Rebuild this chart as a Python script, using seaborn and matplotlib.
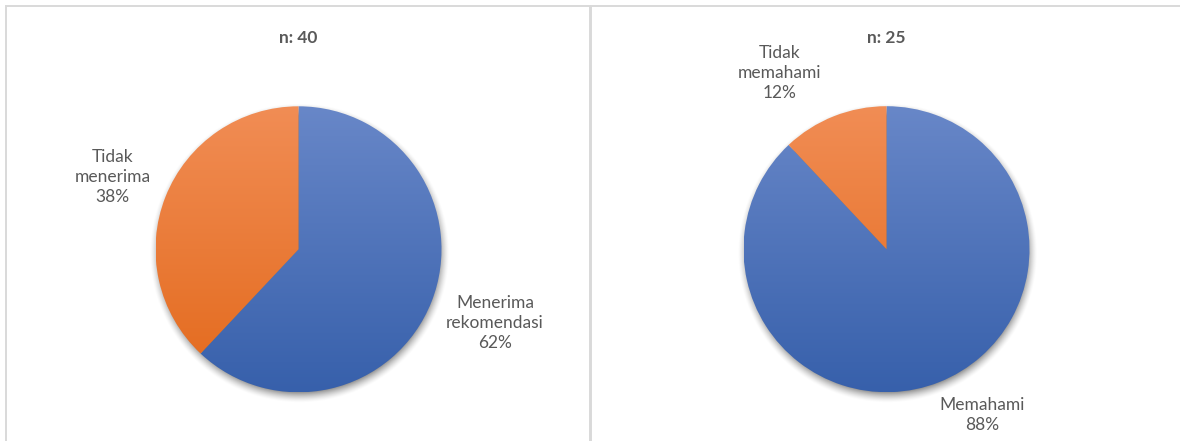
import numpy as np
import matplotlib
matplotlib.use("Agg")
import matplotlib.pyplot as plt
from matplotlib.patches import Rectangle
from matplotlib.colors import to_rgb
import seaborn as sns

sns.set_theme(style="white")
plt.rcParams["font.family"] = ["Lato", "DejaVu Sans"]

# Survey results (percent of respondents)
left_title = "n: 40"
left_labels = ["Menerima\nrekomendasi", "Tidak\nmenerima"]
left_pct = [62, 38]

right_title = "n: 25"
right_labels = ["Memahami", "Tidak\nmemahami"]
right_pct = [88, 12]

W, H, DPI = 1180, 441, 100
fig = plt.figure(figsize=(W / DPI, H / DPI), dpi=DPI, facecolor="white")

base = sns.color_palette(["#4472C4", "#ED7D31"])
# vertical gradient (top, bottom) for each slice colour
gradients = [("#6887c8", "#3760ab"), ("#f18d55", "#e3691b")]
text_color = "#595959"
border_color = "#d9d9d9"

# Panel frames
for x0, x1 in [(6, 590), (591, 1200)]:
    fig.patches.append(Rectangle((x0 / W, -0.1), (x1 - x0) / W, (H - 5.5) / H + 0.1,
                                 transform=fig.transFigure, fill=False,
                                 edgecolor=border_color, linewidth=1.4))

PAD = 1.15  # axes half-width in pie radii, leaves room for the shadow


def soft_shadow(ax):
    n = 500
    xs = np.linspace(-PAD, PAD, n)
    X, Y = np.meshgrid(xs, xs[::-1])
    r = np.hypot(X - 0.008, Y + 0.025)
    a = np.clip((1.05 - r) / 0.09, 0, 1) ** 1.5 * 0.55
    img = np.zeros((n, n, 4))
    img[..., 3] = a
    ax.imshow(img, extent=(-PAD, PAD, -PAD, PAD), zorder=0, interpolation="bilinear")


def draw_pie(center, radius, pct, labels, title, label_pos):
    cx, cy = center
    half = radius * PAD
    ax = fig.add_axes([(cx - half) / W, (H - cy - half) / H, 2 * half / W, 2 * half / H])
    soft_shadow(ax)
    wedges, _ = ax.pie(pct, colors=base, startangle=90, counterclock=False, radius=1,
                       wedgeprops=dict(linewidth=0))
    for i, w in enumerate(wedges):
        top, bot = np.array(to_rgb(gradients[i][0])), np.array(to_rgb(gradients[i][1]))
        t = np.linspace(0, 1, 256)[:, None, None]
        img = top * (1 - t) + bot * t
        w.set_facecolor("none")
        im = ax.imshow(img, extent=(-1, 1, -1, 1), aspect="auto", zorder=2,
                       interpolation="bilinear")
        im.set_clip_path(w)
    for lab, p, (lx, ly) in zip(labels, pct, label_pos):
        ax.text(lx, ly, f"{lab}\n{p}%", ha="center", va="center", fontsize=12.5,
                color=text_color, linespacing=1.32, clip_on=False, zorder=5)
    ax.set_xlim(-PAD, PAD)
    ax.set_ylim(-PAD, PAD)
    ax.set_aspect("equal")
    ax.axis("off")
    fig.text(cx / W, 1 - 38 / H, title, ha="center", va="center", fontsize=12.5,
             fontweight="bold", color=text_color)


draw_pie((298.5, 249.3), 143, left_pct, left_labels, left_title,
         [(1.374, -0.515), (-1.30, 0.506)])
draw_pie((886.5, 249.2), 143, right_pct, right_labels, right_title,
         [(0.668, -1.16), (-0.745, 1.23)])

fig.savefig("out.png", dpi=DPI, facecolor="white")
